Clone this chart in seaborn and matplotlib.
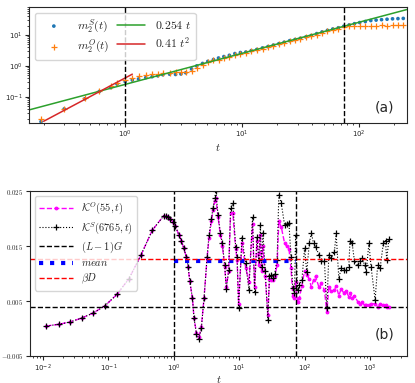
import matplotlib
matplotlib.use("Agg")
import matplotlib.pyplot as plt
import matplotlib.ticker as mticker
import numpy as np
import pandas as pd
import seaborn as sns

# ---- panel (a): second moments ----
t_a = [0.19, 0.3, 0.45, 0.6, 0.75, 0.85, 1.0, 1.15, 1.3, 1.5, 1.7, 1.9, 2.1, 2.4, 2.7,
       3.0, 3.3, 3.7, 4.1, 4.6, 5.1, 5.7, 6.3, 7.0, 7.8, 8.7, 9.7, 10.8, 12, 13.4, 15,
       16.7, 18.6, 20.7, 23, 25.6, 28.5, 31.7, 35.3, 39.3, 43.7, 48.6, 54, 60, 67, 74.5,
       83, 92, 102, 114, 127, 141, 157, 175, 195, 217, 241]
m2_S = [0.016, 0.041, 0.087, 0.15, 0.2, 0.26, 0.31, 0.35, 0.38, 0.42, 0.45, 0.48, 0.52,
        0.54, 0.53, 0.55, 0.6, 0.8, 1.0, 1.2, 1.4, 1.6, 1.8, 2.0, 2.2, 2.5, 2.7, 2.8, 3.1,
        3.4, 3.8, 4.2, 4.7, 5.2, 5.8, 6.5, 7.1, 7.8, 8.6, 9.6, 11, 12.5, 14, 15.5, 17, 19,
        21, 23, 25, 27, 29, 30, 31, 32, 33, 33.5, 34]
m2_O = [0.02, 0.042, 0.09, 0.15, 0.22, 0.28, 0.36, 0.42, 0.46, 0.5, 0.53, 0.56, 0.58,
        0.6, 0.62, 0.63, 0.65, 0.7, 0.85, 1.1, 1.35, 1.5, 1.6, 1.75, 2.0, 2.3, 2.5, 2.7,
        3.0, 3.3, 3.6, 4.0, 4.5, 5.0, 5.6, 6.3, 7.0, 7.6, 8.3, 9.2, 10.3, 11.5, 13, 14.5,
        16, 18, 19, 19.5, 19, 20, 19.5, 20, 20.5, 20, 20.5, 20.5, 20.5]
fit_lin = 0.254
fit_sq = 0.41

# ---- panel (b): K(t) ----
t_b = [0.0113, 0.0175, 0.026, 0.039, 0.058, 0.088, 0.135, 0.207, 0.316, 0.47, 0.70,
       0.75, 0.82, 0.89, 0.97, 1.06, 1.2, 1.31, 1.42, 1.56, 1.66, 1.75, 1.93, 2.04, 2.22,
       2.43, 2.64, 2.9, 3.23, 3.46, 3.76, 3.98, 4.23, 4.39, 4.75, 5.16, 5.54, 6.0, 6.37,
       6.9, 7.4, 8.0, 8.84, 9.3, 9.8, 11, 12.6, 14.1, 16.0, 17.2, 18.7, 20, 21.1, 22,
       23.1, 25, 27.5, 29, 31, 32.8, 35, 38, 40.4, 44, 49.5, 53, 57.7, 62, 66, 70, 73,
       78, 83, 91, 100, 108, 118, 127, 137, 147, 166, 180, 201, 219, 235, 255, 286, 304,
       334, 363, 396, 430, 475, 495, 534, 580, 655, 700, 760, 830, 875, 964, 1040, 1200,
       1310, 1430, 1600, 1730, 1800, 1950]
K_S = [0.00046, 0.00077, 0.0012, 0.0019, 0.0028, 0.0041, 0.0062, 0.0091, 0.0134, 0.0179,
       0.0205, 0.0205, 0.0202, 0.0199, 0.0194, 0.0186, 0.017, 0.016, 0.0146, 0.013, 0.0112,
       0.0087, 0.0055, 0.0019, -0.001, -0.0019, 0.0001, 0.0055, 0.013, 0.017, 0.020,
       0.0219, 0.0237, 0.025, 0.0206, 0.0174, 0.0155, 0.0115, 0.0072, 0.0106, 0.0219,
       0.0228, 0.0148, 0.013, 0.0037, 0.0165, 0.0119, 0.0070, 0.0203, 0.0067, 0.0167,
       0.0125, 0.0188, 0.0112, 0.0174, 0.0105, 0.0015, 0.0095, 0.0097, 0.0092, 0.0100,
       0.0125, 0.0243, 0.0228, 0.0188, 0.019, 0.0192, 0.013, 0.0074, 0.0065, 0.017,
       0.0070, 0.0079, 0.0088, 0.0146, 0.0103, 0.0155, 0.0174, 0.0155, 0.0149, 0.0134,
       0.0122, 0.0123, 0.0037, 0.0134, 0.0128, 0.014, 0.0173, 0.0091, 0.011, 0.0106,
       0.0106, 0.0112, 0.016, 0.0155, 0.0122, 0.0115, 0.0122, 0.0128, 0.0115, 0.0103,
       0.0155, 0.0112, 0.0052, 0.0115, 0.011, 0.0155, 0.016, 0.0125, 0.0162]
K_O = [0.00046, 0.00077, 0.0012, 0.0019, 0.0028, 0.0041, 0.0062, 0.0091, 0.0134, 0.0179,
       0.0205, 0.0205, 0.0202, 0.0199, 0.0194, 0.0186, 0.017, 0.016, 0.0146, 0.013, 0.0112,
       0.0087, 0.0055, 0.0019, -0.0008, -0.0015, 0.0003, 0.0055, 0.0128, 0.0165, 0.0195,
       0.0215, 0.0232, 0.0238, 0.0203, 0.017, 0.015, 0.0112, 0.0075, 0.0105, 0.021,
       0.021, 0.0145, 0.0125, 0.0045, 0.0155, 0.011, 0.0085, 0.019, 0.0075, 0.016,
       0.0115, 0.017, 0.0105, 0.015, 0.0095, 0.0025, 0.009, 0.0088, 0.0088, 0.0095,
       0.0115, 0.0195, 0.0185, 0.0155, 0.015, 0.0145, 0.011, 0.006, 0.0055, 0.0085,
       0.0048, 0.0055, 0.0078, 0.0105, 0.0098, 0.009, 0.0075, 0.0088, 0.0095, 0.0075,
       0.0082, 0.007, 0.003, 0.0075, 0.0068, 0.007, 0.0078, 0.006, 0.0072, 0.0065,
       0.0068, 0.0058, 0.0065, 0.0055, 0.006, 0.0048, 0.0045, 0.0048, 0.0042, 0.0043,
       0.0042, 0.0045, 0.0045, 0.004, 0.0045, 0.0042, 0.0042, 0.004, 0.0039]
LG = 0.004
beta_D = 0.0127
K_mean = 0.0122
t_mean = [1.0, 75]
t_marks = [1.0, 75]

sns.set_style("ticks")
plt.rcParams["mathtext.fontset"] = "cm"
plt.rcParams["font.family"] = ["DejaVu Sans"]
plt.rcParams["xtick.labelsize"] = 5
plt.rcParams["ytick.labelsize"] = 5
plt.rcParams["xtick.major.size"] = 3
plt.rcParams["ytick.major.size"] = 3
plt.rcParams["xtick.minor.size"] = 1.5
plt.rcParams["ytick.minor.size"] = 1.5
plt.rcParams["xtick.major.pad"] = 1.5
plt.rcParams["ytick.major.pad"] = 1.5

fig = plt.figure(figsize=(4.15, 3.83), dpi=100)
ax1 = fig.add_axes([0.070, 0.679, 0.911, 0.303])
ax2 = fig.add_axes([0.072, 0.0705, 0.909, 0.4305])

# panel (a)
df_a = pd.DataFrame({"t": t_a, "S": m2_S, "O": m2_O})
t_line = np.array([0.15, 260])
t_red = np.array([0.2, 1.15])
sns.scatterplot(data=df_a, x="t", y="S", ax=ax1, marker="o", s=7, color="#1f77b4",
                edgecolor="none", label=r"$m_2^S(t)$")
sns.scatterplot(data=df_a, x="t", y="O", ax=ax1, marker="+", s=22, color="#ff7f0e",
                linewidth=0.9, label=r"$m_2^O(t)$")
sns.lineplot(x=t_line, y=fit_lin * t_line, ax=ax1, color="#2ca02c", lw=1.1,
             label=r"$0.254\ t$")
sns.lineplot(x=t_red, y=fit_sq * t_red ** 2, ax=ax1, color="#d62728", lw=1.1,
             label=r"$0.41\ t^2$")
for tv in t_marks:
    ax1.axvline(tv, color="black", ls="--", lw=1.0)
ax1.set_xscale("log")
ax1.set_yscale("log")
ax1.set_xlim(0.15, 260)
ax1.set_ylim(0.0145, 80)
ax1.set_xlabel(r"$t$", fontsize=8, labelpad=1)
ax1.set_ylabel("")
ax1.legend(loc="upper left", ncol=2, fontsize=8.5, handlelength=2.4, columnspacing=0.6,
           borderpad=0.4, labelspacing=0.3)
ax1.text(0.94, 0.13, "(a)", transform=ax1.transAxes, fontsize=10, ha="center", va="center")

# panel (b)
df_b = pd.DataFrame({"t": t_b, "KS": K_S, "KO": K_O})
sns.lineplot(data=df_b, x="t", y="KO", ax=ax2, color="magenta", ls="--", lw=1.0,
             marker=".", markersize=4, markeredgecolor="magenta",
             label=r"$\mathcal{K}^O(55,t)$")
sns.lineplot(data=df_b, x="t", y="KS", ax=ax2, color="black", ls=":", lw=0.8,
             marker="+", markersize=5, markeredgewidth=0.9, markeredgecolor="black",
             label=r"$\mathcal{K}^S(6765,t)$")
ax2.axhline(LG, color="black", ls="--", lw=1.0, label=r"$(L-1)G$")
sns.lineplot(x=t_mean, y=[K_mean, K_mean], ax=ax2, color="blue", ls=":", lw=3,
             label=r"$mean$")
ax2.axhline(beta_D, color="red", ls="--", lw=1.0, label=r"$\beta D$")
for tv in t_marks:
    ax2.axvline(tv, color="black", ls="--", lw=1.0)
ax2.set_xscale("log")
ax2.set_xlim(0.0063, 3700)
ax2.set_ylim(-0.005, 0.025)
ax2.set_yticks([-0.005, 0.005, 0.015, 0.025])
ax2.yaxis.set_major_formatter(mticker.FuncFormatter(lambda v, p: f"${v:.3f}$"))
ax2.set_xlabel(r"$t$", fontsize=8, labelpad=0)
ax2.set_ylabel("")
ax2.legend(loc="upper left", fontsize=7.5, handlelength=3.2, borderpad=0.4,
           labelspacing=0.35)
ax2.text(0.94, 0.13, "(b)", transform=ax2.transAxes, fontsize=10, ha="center", va="center")

fig.savefig("out.png", dpi=100)
